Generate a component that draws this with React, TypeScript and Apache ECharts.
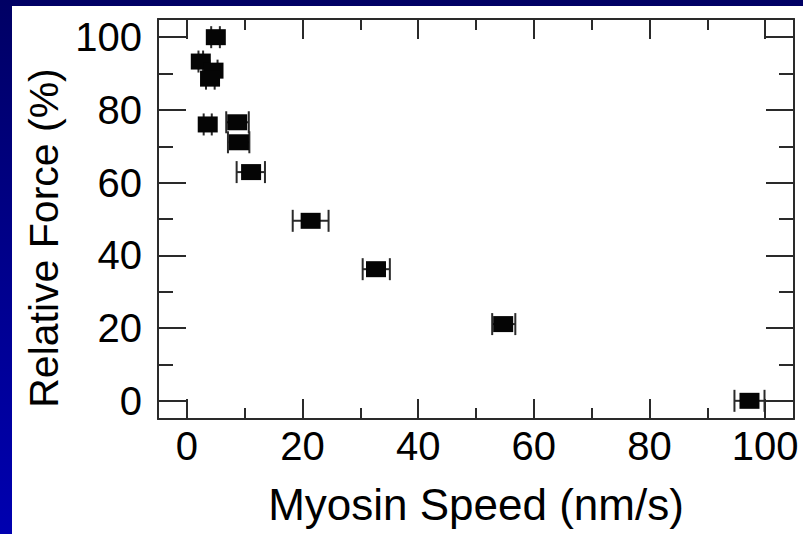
import React, { useEffect, useRef } from "react";
import * as echarts from "echarts";

// Myosin speed (nm/s), relative force (%), speed error bar low/high
const speed = [5.0, 2.4, 4.6, 4.0, 3.6, 8.7, 9.0, 11.1, 21.4, 32.7, 54.7, 97.3];
const force = [100.0, 93.3, 90.8, 88.6, 76.0, 76.6, 71.1, 62.9, 49.5, 36.2, 21.1, 0.0];
const speedLow = [4.2, 2.0, 3.9, 3.3, 2.9, 6.8, 7.1, 8.6, 18.3, 30.4, 52.8, 94.7];
const speedHigh = [5.7, 2.8, 5.3, 4.8, 4.3, 10.7, 10.8, 13.5, 24.5, 35.1, 56.8, 99.9];

const majorTicks = [0, 20, 40, 60, 80, 100];
const minorTicks = [10, 30, 50, 70, 90];

const xTitle = "Myosin Speed (nm/s)";
const yTitle = "Relative Force (%)";

const FONT = "Liberation Sans, Arial, Helvetica, sans-serif";
const LINE = "#2a2a2a";

export default function App() {
  const ref = useRef<HTMLDivElement>(null);

  useEffect(() => {
    document.body.style.margin = "0";
    if (!ref.current) return;
    const chart = echarts.init(ref.current, null, { renderer: "svg" });

    const points = speed.map((x, i) => [x, force[i]]);
    const errs = speed.map((x, i) => [x, force[i], speedLow[i], speedHigh[i]]);

    const tickStyle = { color: LINE, width: 2 };

    const xAxisBase = { type: "value", min: -5, max: 105, splitLine: { show: false } };
    const yAxisBase = { type: "value", min: -5, max: 105, splitLine: { show: false } };

    const option: any = {
      animation: false,
      backgroundColor: "#ffffff",
      grid: { left: 146, top: 13, right: 9, bottom: 115, containLabel: false },
      xAxis: [
        {
          ...xAxisBase,
          position: "bottom",
          name: xTitle,
          nameLocation: "middle",
          nameGap: 63,
          nameTextStyle: { fontSize: 44, fontFamily: FONT, color: "#000" },
          axisLine: { show: true, onZero: false, lineStyle: tickStyle },
          axisTick: { show: true, inside: true, length: 20, customValues: majorTicks, lineStyle: tickStyle },
          axisLabel: { show: true, customValues: majorTicks, fontSize: 40, fontFamily: FONT, color: "#000", margin: 7 },
        },
        {
          ...xAxisBase,
          position: "bottom",
          axisLine: { show: false, onZero: false },
          axisTick: { show: true, inside: true, length: 11, customValues: minorTicks, lineStyle: tickStyle },
          axisLabel: { show: false },
        },
        {
          ...xAxisBase,
          position: "top",
          axisLine: { show: true, onZero: false, lineStyle: tickStyle },
          axisTick: { show: true, inside: true, length: 20, customValues: majorTicks, lineStyle: tickStyle },
          axisLabel: { show: false },
        },
        {
          ...xAxisBase,
          position: "top",
          axisLine: { show: false, onZero: false },
          axisTick: { show: true, inside: true, length: 11, customValues: minorTicks, lineStyle: tickStyle },
          axisLabel: { show: false },
        },
      ],
      yAxis: [
        {
          ...yAxisBase,
          position: "left",
          name: yTitle,
          nameLocation: "middle",
          nameGap: 78,
          nameRotate: 90,
          nameTextStyle: { fontSize: 41, fontFamily: FONT, color: "#000", padding: [0, 38, 0, 0] },
          axisLine: { show: true, onZero: false, lineStyle: tickStyle },
          axisTick: { show: true, inside: true, length: 28, customValues: majorTicks, lineStyle: tickStyle },
          axisLabel: { show: true, customValues: majorTicks, fontSize: 40, fontFamily: FONT, color: "#000", margin: 16 },
        },
        {
          ...yAxisBase,
          position: "left",
          axisLine: { show: false, onZero: false },
          axisTick: { show: true, inside: true, length: 15, customValues: minorTicks, lineStyle: tickStyle },
          axisLabel: { show: false },
        },
        {
          ...yAxisBase,
          position: "right",
          axisLine: { show: true, onZero: false, lineStyle: tickStyle },
          axisTick: { show: true, inside: true, length: 28, customValues: majorTicks, lineStyle: tickStyle },
          axisLabel: { show: false },
        },
        {
          ...yAxisBase,
          position: "right",
          axisLine: { show: false, onZero: false },
          axisTick: { show: true, inside: true, length: 15, customValues: minorTicks, lineStyle: tickStyle },
          axisLabel: { show: false },
        },
      ],
      series: [
        {
          type: "custom",
          xAxisIndex: 0,
          yAxisIndex: 0,
          z: 2,
          encode: { x: [0, 2, 3], y: 1 },
          data: errs,
          renderItem: (params: any, api: any) => {
            const y = api.value(1);
            const lo = api.coord([api.value(2), y]);
            const hi = api.coord([api.value(3), y]);
            const cap = 11;
            const style = { stroke: LINE, lineWidth: 2 };
            return {
              type: "group",
              children: [
                { type: "line", shape: { x1: lo[0], y1: lo[1], x2: hi[0], y2: hi[1] }, style },
                { type: "line", shape: { x1: lo[0], y1: lo[1] - cap, x2: lo[0], y2: lo[1] + cap }, style },
                { type: "line", shape: { x1: hi[0], y1: hi[1] - cap, x2: hi[0], y2: hi[1] + cap }, style },
              ],
            };
          },
        },
        {
          type: "scatter",
          xAxisIndex: 0,
          yAxisIndex: 0,
          z: 3,
          symbol: "rect",
          symbolSize: [20, 16],
          itemStyle: { color: "#050505", opacity: 1 },
          emphasis: { disabled: true },
          data: points,
        },
      ],
    };

    chart.setOption(option);
    return () => chart.dispose();
  }, []);

  return (
    <div
      style={{
        position: "relative",
        width: 803,
        height: 534,
        background: "linear-gradient(to bottom, #000064 0%, #00008c 50%, #0000b0 100%)",
        overflow: "hidden",
      }}
    >
      <div
        ref={ref}
        style={{ position: "absolute", left: 12, top: 6, width: 791, height: 528, background: "#ffffff" }}
      />
    </div>
  );
}
